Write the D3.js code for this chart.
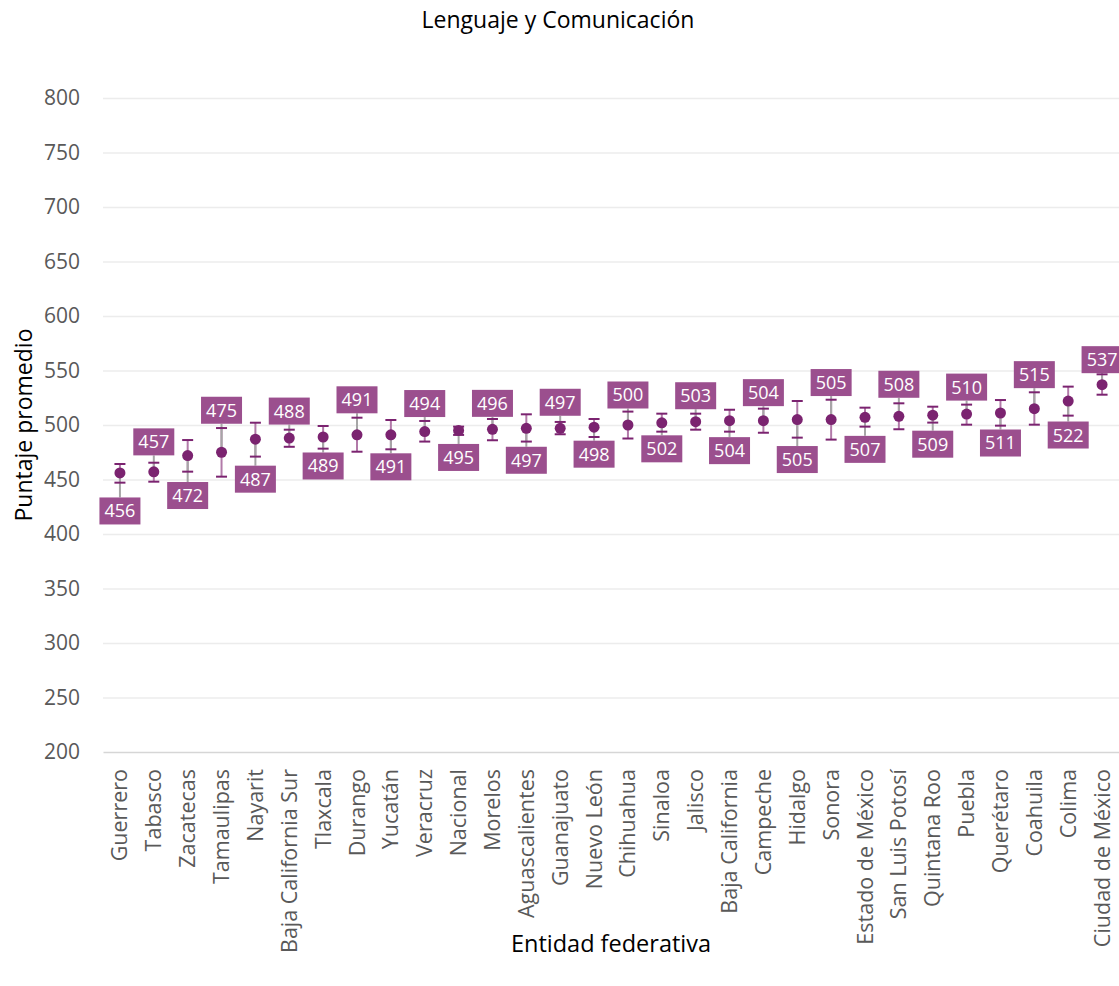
<!DOCTYPE html>
<html>
<head>
<meta charset="utf-8">
<script src="https://cdn.jsdelivr.net/npm/d3@7"></script>
<style>
  html, body { margin: 0; padding: 0; background: #fff; }
  svg { display: block; }
</style>
</head>
<body>
<svg id="chart" width="1119" height="986"></svg>
<script>
// ---- Data ----
const categories = ["Guerrero","Tabasco","Zacatecas","Tamaulipas","Nayarit","Baja California Sur","Tlaxcala","Durango","Yucatán","Veracruz","Nacional","Morelos","Aguascalientes","Guanajuato","Nuevo León","Chihuahua","Sinaloa","Jalisco","Baja California","Campeche","Hidalgo","Sonora","Estado de México","San Luis Potosí","Quintana Roo","Puebla","Querétaro","Coahuila","Colima","Ciudad de México"];
const promedio = [456,457,472,475,487,488,489,491,491,494,495,496,497,497,498,500,502,503,504,504,505,505,507,508,509,510,511,515,522,537];
const limiteInferior = [447.1,448.0,457.2,452.6,471.0,480.0,478.3,475.5,477.7,484.8,490.9,486.0,484.8,491.5,489.0,487.6,493.9,495.7,493.9,492.9,488.4,486.6,498.5,496.1,502.2,500.3,499.4,500.3,508.6,527.8];
const limiteSuperior = [464.2,465.4,486.2,497.2,502.1,495.7,499.1,506.7,504.6,503.7,498.5,505.5,509.8,502.8,505.5,512.3,510.4,510.4,514.0,515.0,522.0,523.2,515.9,519.9,516.8,518.7,522.9,530.0,535.2,546.5];
const yTicks = [200,250,300,350,400,450,500,550,600,650,700,750,800];

// ---- Layout (label placement offsets, px from the dot) ----
const labelDy = [38,-30,40,-42,40,-27,29,-35,32,-28,27,-26,32,-26,27,-30,26,-26,30,-28,40,-37,32,-32,29,-27,30,-34,34,-25];

const W = 1119, H = 986;
const m = {left: 103, right: 0, top: 98, bottom: 234};
const svg = d3.select("#chart");

const x = d3.scaleBand().domain(categories).range([m.left, W - m.right]).padding(0);
const y = d3.scaleLinear().domain([200, 800]).range([H - m.bottom, m.top]);

const FONT = "'Open Sans', sans-serif";

// Gridlines
svg.append("g")
  .attr("transform", `translate(${m.left},0)`)
  .call(d3.axisLeft(y).tickValues(yTicks.filter(t => t !== 200)).tickSize(-(W - m.left - m.right)).tickFormat(""))
  .call(g => g.select(".domain").remove())
  .call(g => g.selectAll("line").attr("stroke", "#ececec").attr("stroke-width", 1.5));

// Y axis labels
svg.append("g")
  .attr("transform", `translate(${m.left},0)`)
  .call(d3.axisLeft(y).tickValues(yTicks).tickSize(0).tickPadding(23))
  .call(g => g.select(".domain").remove())
  .call(g => g.selectAll("text").attr("font-family", FONT).attr("font-size", 21).attr("fill", "#595959"));

// X axis
const xAxis = svg.append("g")
  .attr("transform", `translate(0,${y(200)})`)
  .call(d3.axisBottom(x).tickSize(0).tickPadding(0));
xAxis.select(".domain").attr("stroke", "#d6d6d6").attr("stroke-width", 1.5);
xAxis.selectAll("text")
  .attr("font-family", FONT).attr("font-size", 21.5).attr("fill", "#595959")
  .attr("text-anchor", "end")
  .attr("transform", "translate(0,17) rotate(-90)")
  .attr("x", 0).attr("y", 0).attr("dy", "0.35em");

// Titles
svg.append("text").attr("x", 558).attr("y", 28).attr("text-anchor", "middle")
  .attr("font-family", FONT).attr("font-size", 23).attr("fill", "#000")
  .text("Lenguaje y Comunicación");
svg.append("text").attr("x", 611).attr("y", 952).attr("text-anchor", "middle")
  .attr("font-family", FONT).attr("font-size", 23.5).attr("fill", "#000")
  .text("Entidad federativa");
svg.append("text").attr("transform", `translate(32,${(y(200)+y(800))/2}) rotate(-90)`)
  .attr("text-anchor", "middle")
  .attr("font-family", FONT).attr("font-size", 23).attr("fill", "#000")
  .text("Puntaje promedio");

// Data marks
const rows = categories.map((c, i) => ({c, v: promedio[i], lo: limiteInferior[i], hi: limiteSuperior[i], dy: labelDy[i]}));
const cx = d => x(d.c) + x.bandwidth() / 2;
const BOX_W = 41, BOX_H = 27;

const g = svg.append("g");
// error bar stems
g.selectAll(".stem").data(rows).join("line")
  .attr("x1", cx).attr("x2", cx)
  .attr("y1", d => y(d.lo)).attr("y2", d => y(d.hi))
  .attr("stroke", "#b27aa9").attr("stroke-width", 2);
// leader lines
g.selectAll(".leader").data(rows).join("line")
  .attr("x1", cx).attr("x2", cx)
  .attr("y1", d => y(d.v))
  .attr("y2", d => y(d.v) + d.dy + (d.dy > 0 ? -BOX_H/2 : BOX_H/2))
  .attr("stroke", "#a6a6a6").attr("stroke-width", 2);
// caps
["lo", "hi"].forEach(k => {
  g.selectAll(".cap-" + k).data(rows).join("line")
    .attr("x1", d => cx(d) - 5.5).attr("x2", d => cx(d) + 5.5)
    .attr("y1", d => y(d[k])).attr("y2", d => y(d[k]))
    .attr("stroke", "#7b2370").attr("stroke-width", 2);
});
// dots
g.selectAll(".dot").data(rows).join("circle")
  .attr("cx", cx).attr("cy", d => y(d.v)).attr("r", 5.5)
  .attr("fill", "#7b2370");
// label boxes
const lab = g.selectAll(".lab").data(rows).join("g")
  .attr("transform", d => `translate(${cx(d)},${y(d.v) + d.dy})`);
lab.append("rect")
  .attr("x", -BOX_W/2).attr("y", -BOX_H/2).attr("width", BOX_W).attr("height", BOX_H)
  .attr("fill", "#9b4f8e");
lab.append("text")
  .attr("text-anchor", "middle").attr("dy", "0.36em")
  .attr("font-family", FONT).attr("font-size", 18).attr("fill", "#fff")
  .text(d => d.v);
</script>
</body>
</html>
